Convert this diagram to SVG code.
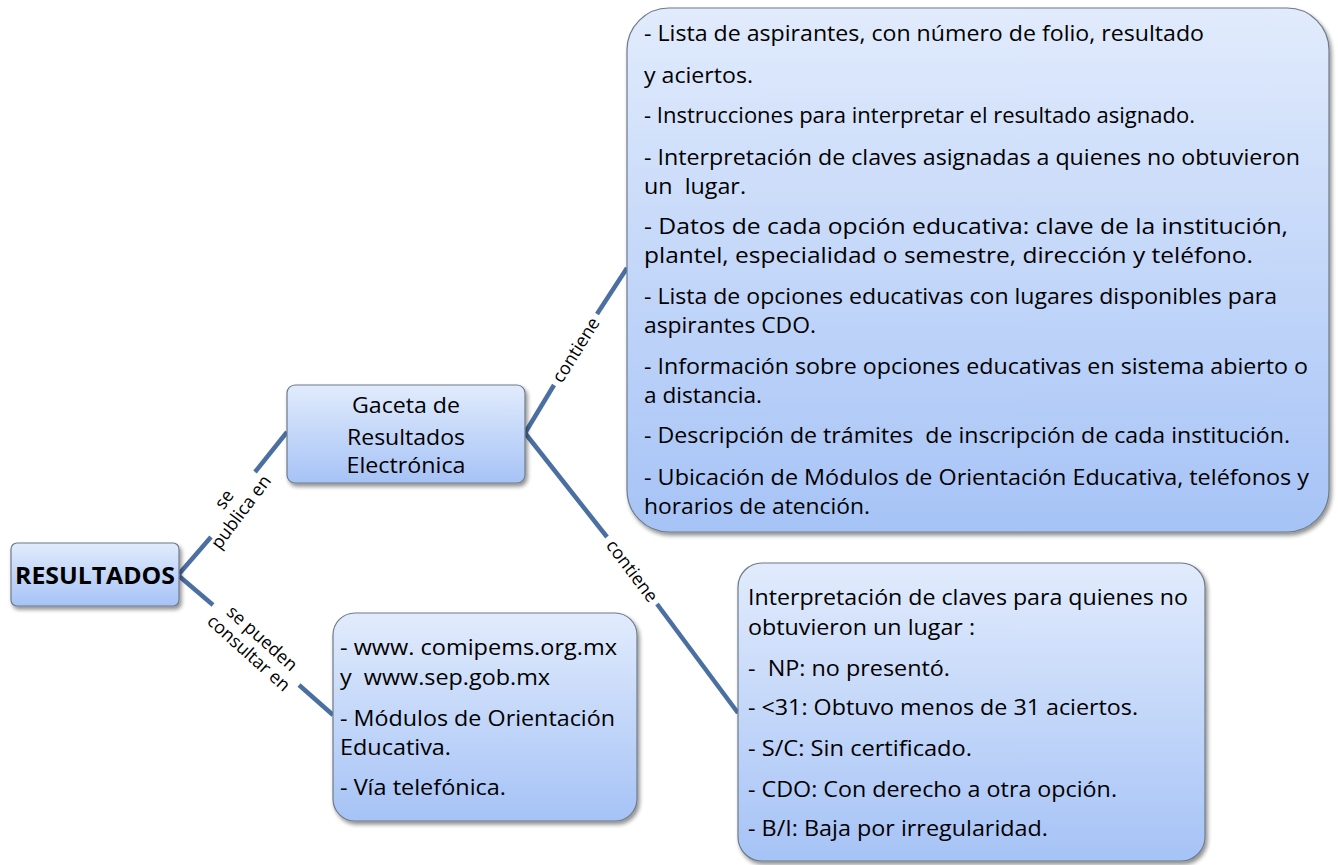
<svg xmlns="http://www.w3.org/2000/svg" width="1338" height="865" viewBox="0 0 1338 865">
<defs>
<linearGradient id="g" x1="0" y1="0" x2="0" y2="1">
<stop offset="0" stop-color="#e1ebfc"/>
<stop offset="1" stop-color="#a6c3f6"/>
</linearGradient>
<filter id="sh" x="-10%" y="-10%" width="125%" height="130%">
<feGaussianBlur in="SourceAlpha" stdDeviation="2"/>
<feOffset dx="2" dy="3" result="b"/>
<feComponentTransfer><feFuncA type="linear" slope="0.45"/></feComponentTransfer>
<feMerge><feMergeNode/><feMergeNode in="SourceGraphic"/></feMerge>
</filter>
</defs>
<style>
.box{fill:url(#g);stroke:#6f7b8a;stroke-width:1.2;filter:url(#sh)}
.t{font-family:"Open Sans","Liberation Sans",sans-serif;font-size:22px;fill:#000}
.c{text-anchor:middle}
.b{font-weight:bold;font-size:24px}
.lbl{font-family:"Open Sans","Liberation Sans",sans-serif;font-size:18px;fill:#000;text-anchor:middle}
.ln{stroke:#4a6fa0;stroke-width:4.5;fill:none;stroke-linecap:butt}
</style>
<rect width="1338" height="865" fill="#fff"/>

<g id="connectors">
<line class="ln" x1="179" y1="574" x2="211" y2="537"/>
<line class="ln" x1="255" y1="472" x2="287" y2="432"/>
<line class="ln" x1="179" y1="576" x2="213" y2="605"/>
<line class="ln" x1="299" y1="685" x2="333" y2="715"/>
<line class="ln" x1="525" y1="433" x2="554" y2="385"/>
<line class="ln" x1="597" y1="314" x2="627" y2="268"/>
<line class="ln" x1="525" y1="433" x2="607" y2="537"/>
<line class="ln" x1="657" y1="604" x2="738" y2="713"/>
<g transform="translate(233,506) rotate(-53)">
<text class="lbl" x="0" y="-5">se</text>
<text class="lbl" x="0" y="16">publica en</text>
</g>
<g transform="translate(256,645) rotate(42)">
<text class="lbl" x="0" y="-3">se pueden</text>
<text class="lbl" x="0" y="17">consultar en</text>
</g>
<text class="lbl" transform="translate(576,350) rotate(-58)" y="6">contiene</text>
<text class="lbl" transform="translate(632,571) rotate(53)" y="6">contiene</text>
</g>

<g id="resultados">
<rect class="box" x="11" y="543" width="168" height="63" rx="6"/>
<text class="t b c" x="95" y="584" textLength="160" lengthAdjust="spacingAndGlyphs">RESULTADOS</text>
</g>

<g id="gaceta">
<rect class="box" x="287" y="385" width="238" height="98" rx="8"/>
<text class="t c" x="406" y="413" textLength="108" lengthAdjust="spacingAndGlyphs">Gaceta de</text>
<text class="t c" x="406" y="445" textLength="118" lengthAdjust="spacingAndGlyphs">Resultados</text>
<text class="t c" x="406" y="473" textLength="119" lengthAdjust="spacingAndGlyphs">Electrónica</text>
</g>

<g id="contenido">
<rect class="box" x="627" y="8" width="702" height="524" rx="42"/>
<text class="t" x="644" y="41" textLength="560" lengthAdjust="spacingAndGlyphs">- Lista de aspirantes, con número de folio, resultado</text>
<text class="t" x="644" y="83" textLength="109" lengthAdjust="spacingAndGlyphs">y aciertos.</text>
<text class="t" x="644" y="123" textLength="551" lengthAdjust="spacingAndGlyphs">- Instrucciones para interpretar el resultado asignado.</text>
<text class="t" x="644" y="165" textLength="656" lengthAdjust="spacingAndGlyphs">- Interpretación de claves asignadas a quienes no obtuvieron</text>
<text class="t" x="644" y="194" textLength="102" lengthAdjust="spacingAndGlyphs" xml:space="preserve">un  lugar.</text>
<text class="t" x="644" y="234" textLength="644" lengthAdjust="spacingAndGlyphs">- Datos de cada opción educativa: clave de la institución,</text>
<text class="t" x="644" y="263" textLength="609" lengthAdjust="spacingAndGlyphs">plantel, especialidad o semestre, dirección y teléfono.</text>
<text class="t" x="644" y="304" textLength="633" lengthAdjust="spacingAndGlyphs">- Lista de opciones educativas con lugares disponibles para</text>
<text class="t" x="644" y="333" textLength="172" lengthAdjust="spacingAndGlyphs">aspirantes CDO.</text>
<text class="t" x="644" y="374" textLength="664" lengthAdjust="spacingAndGlyphs">- Información sobre opciones educativas en sistema abierto o</text>
<text class="t" x="644" y="403" textLength="118" lengthAdjust="spacingAndGlyphs">a distancia.</text>
<text class="t" x="644" y="443" textLength="646" lengthAdjust="spacingAndGlyphs" xml:space="preserve">- Descripción de trámites  de inscripción de cada institución.</text>
<text class="t" x="644" y="485" textLength="665" lengthAdjust="spacingAndGlyphs">- Ubicación de Módulos de Orientación Educativa, teléfonos y</text>
<text class="t" x="644" y="514" textLength="226" lengthAdjust="spacingAndGlyphs">horarios de atención.</text>
</g>

<g id="consulta">
<rect class="box" x="333" y="613" width="304" height="208" rx="22"/>
<text class="t" x="340" y="655" textLength="277" lengthAdjust="spacingAndGlyphs">- www. comipems.org.mx</text>
<text class="t" x="340" y="685" textLength="210" lengthAdjust="spacingAndGlyphs" xml:space="preserve">y  www.sep.gob.mx</text>
<text class="t" x="340" y="726" textLength="275" lengthAdjust="spacingAndGlyphs">- Módulos de Orientación</text>
<text class="t" x="340" y="755" textLength="111" lengthAdjust="spacingAndGlyphs">Educativa.</text>
<text class="t" x="340" y="795" textLength="166" lengthAdjust="spacingAndGlyphs">- Vía telefónica.</text>
</g>

<g id="claves">
<rect class="box" x="738" y="563" width="467" height="298" rx="24"/>
<text class="t" x="748" y="605" textLength="440" lengthAdjust="spacingAndGlyphs">Interpretación de claves para quienes no</text>
<text class="t" x="748" y="635" textLength="227" lengthAdjust="spacingAndGlyphs">obtuvieron un lugar :</text>
<text class="t" x="748" y="676" textLength="202" lengthAdjust="spacingAndGlyphs" xml:space="preserve">-  NP: no presentó.</text>
<text class="t" x="748" y="715" textLength="390" lengthAdjust="spacingAndGlyphs">- &lt;31: Obtuvo menos de 31 aciertos.</text>
<text class="t" x="748" y="756" textLength="224" lengthAdjust="spacingAndGlyphs">- S/C: Sin certificado.</text>
<text class="t" x="748" y="797" textLength="369" lengthAdjust="spacingAndGlyphs">- CDO: Con derecho a otra opción.</text>
<text class="t" x="748" y="836" textLength="300" lengthAdjust="spacingAndGlyphs">- B/I: Baja por irregularidad.</text>
</g>
</svg>
